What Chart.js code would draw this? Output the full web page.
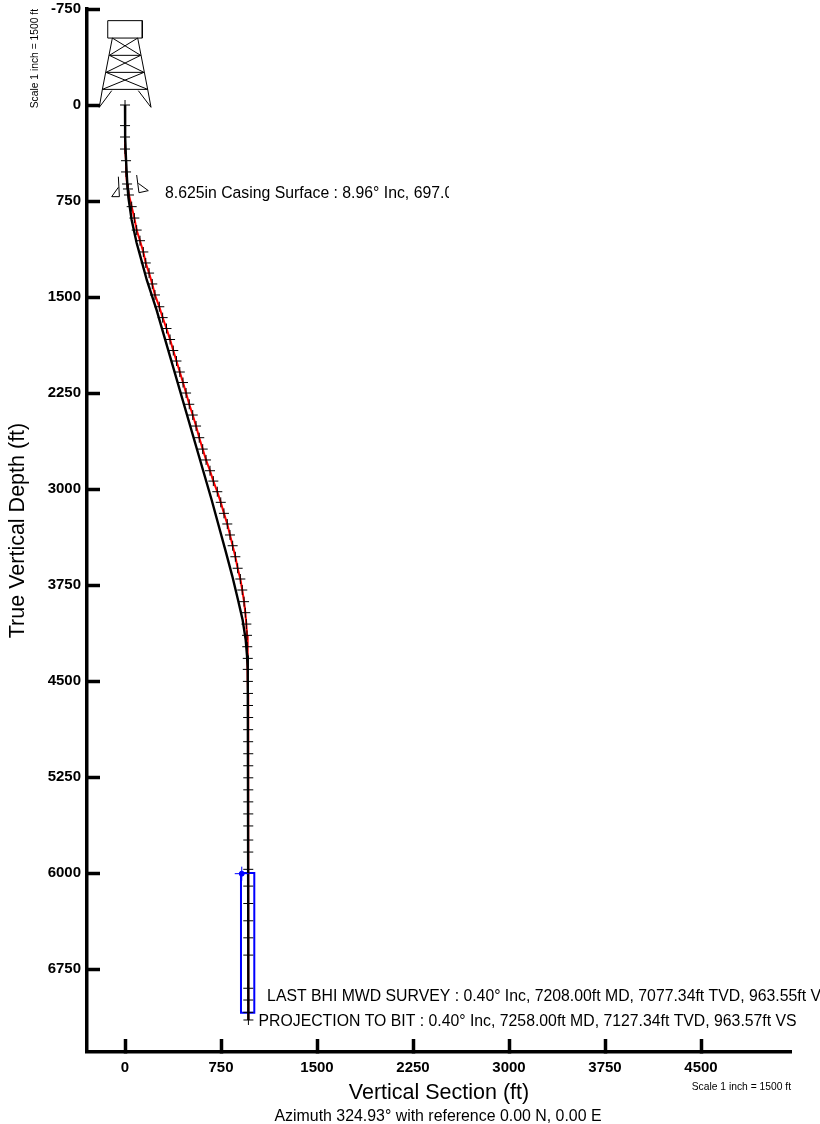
<!DOCTYPE html>
<html><head><meta charset="utf-8">
<style>html,body{margin:0;padding:0;background:#fff}canvas{display:block}</style>
<script src="https://cdn.jsdelivr.net/npm/chart.js@4"></script>
</head><body>
<canvas id="c" width="820" height="1124"></canvas>
<script>
// Axis ticks (ft)
const xTicks = [0,750,1500,2250,3000,3750,4500];
const yTicks = [-750,0,750,1500,2250,3000,3750,4500,5250,6000,6750];
// Survey stations
const surveyTVD = [0,161,250,344,435,523,617,656,703,794,883,977,1060,1148,1234,1313,1398,1484,1576,1661,1746,1832,1918,2000,2086,2168,2250,2338,2422,2508,2599,2688,2773,2857,2938,3021,3104,3190,3273,3359,3443,3529,3619,3703,3789,3880,3966,4055,4143,4232,4323,4409,4503,4597,4691,4785,4880,4974,5068,5162,5256,5350,5444,5538,5632,5742,5836,5971,6102,6238,6373,6506,6641,6900,6992,7088,7148];
const surveyVS  = [0,0,0,0,8,8,16,23,31,52,73,91,117,143,162,188,213,234,268,294,324,352,377,402,428,453,477,502,529,555,580,607,633,664,690,721,748,773,799,820,841,862,880,901,916,930,940,948,953,955,959,959,960,961,961,962,962,962,963,963,963,963,963,963,963,963,963,963,963,963,963,963,963,963,963,963,964];
// Well plan
const planTVD = [0,250,430,600,719,898,1078,1220,1367,1602,3086,3477,3680,3867,4023,4180,4300,4414,7148];
const planVS  = [0,1,8,17,26,52,91,130,170,247,677,784,838,883,919,943,953,959,964];
// Target box
const boxVS  = [906,1010,1010,906,906];
const boxTVD = [6000,6000,7091,7091,6000];
const targetVS = [912];
const targetTVD = [6005];
// Rig symbol (ft), null breaks the stroke
const rigVS  = [-135,135,135,-135,-135,null,-99,-177,null,99,177,null,-122,122,null,-148,148,null,-177,177,null,-99,122,null,99,-122,null,-122,148,null,122,-148,null,-148,177,null,148,-177,null,-177,-201,-104,null,177,203,104];
const rigTVD = [-659,-659,-523,-523,-659,null,-523,-122,null,-523,-122,null,-388,-388,null,-255,-255,null,-122,-122,null,-523,-388,null,-523,-388,null,-388,-255,null,-388,-255,null,-255,-122,null,-255,-122,null,-122,18,-112,null,-122,18,-112];
// Casing symbol
const casingVS  = [-52,-44,-104,-52,null,91,109,182,104];
const casingTVD = [560,716,716,643,null,547,685,669,612];
// Annotation text and anchors
const labelTexts = ["8.625in Casing Surface : 8.96° Inc, 697.00ft MD, 690.00ft TVD, 33.00ft VS","LAST BHI MWD SURVEY : 0.40° Inc, 7208.00ft MD, 7077.34ft TVD, 963.55ft VS","PROJECTION TO BIT : 0.40° Inc, 7258.00ft MD, 7127.34ft TVD, 963.57ft VS"];
const labelVS  = [312,1110,1043];
const labelTVD = [692,6965,7160];
const toPts=(xs,ys)=>xs.map((x,i)=>({x:x===null?NaN:x,y:ys[i]===null?NaN:ys[i]}));

const FONT='"Liberation Sans", Arial, sans-serif';
const annotations={id:'annotations',afterDraw(ch){
  const {ctx,scales:{x,y}}=ch;
  ctx.save();ctx.fillStyle='#000';ctx.textBaseline='middle';ctx.textAlign='left';
  labelTexts.forEach((t,i)=>{
    ctx.save();
    ctx.font='15.8px '+FONT;
    if(i===0){ctx.beginPath();ctx.rect(0,0,449,1124);ctx.clip();}
    ctx.fillText(t,x.getPixelForValue(labelVS[i]),y.getPixelForValue(labelTVD[i]));
    ctx.restore();
  });
  ctx.textAlign='center';ctx.font='15.9px '+FONT;
  ctx.fillText('Azimuth 324.93° with reference 0.00 N, 0.00 E',438,1117);
  ctx.font='10.3px '+FONT;ctx.textAlign='right';
  ctx.fillText('Scale 1 inch = 1500 ft',791,1087);
  ctx.save();ctx.translate(35,9);ctx.rotate(-Math.PI/2);ctx.textAlign='right';
  ctx.fillText('Scale 1 inch = 1500 ft',0,0);ctx.restore();
  ctx.restore();
}};
const axisCommon=(arr)=>({
  type:'linear',
  afterBuildTicks(s){s.ticks=arr.map(v=>({value:v}));},
  grid:{display:true,drawOnChartArea:false,drawTicks:true,tickLength:-13,tickWidth:3.5,tickColor:'#000'},
  border:{display:true,color:'#000',width:3.5}
});
new Chart(document.getElementById('c'),{
  type:'scatter',
  plugins:[annotations],
  data:{datasets:[
    {label:'Rig',data:toPts(rigVS,rigTVD),showLine:true,spanGaps:false,borderColor:'#000',borderWidth:1,pointRadius:0},
    {label:'Casing',data:toPts(casingVS,casingTVD),showLine:true,spanGaps:false,borderColor:'#000',borderWidth:1,pointRadius:0},
    {label:'Target box',data:toPts(boxVS,boxTVD),showLine:true,borderColor:'#0000ff',borderWidth:2,pointRadius:0},
    {label:'Survey',data:toPts(surveyVS,surveyTVD),showLine:true,borderColor:'#ff0000',borderWidth:2,pointStyle:'cross',pointRadius:5,pointBorderColor:'#000',pointBorderWidth:1,order:-1},
    {label:'Plan',data:toPts(planVS,planTVD),showLine:true,borderColor:'#000',borderWidth:2.4,pointRadius:0,order:-2},
    {label:'Target',data:toPts(targetVS,targetTVD),pointStyle:'cross',pointRadius:7,pointBorderColor:'#0000ff',pointBorderWidth:1,order:-3},
    {label:'Target centre',data:toPts(targetVS,targetTVD),pointStyle:'circle',pointRadius:2.5,pointBackgroundColor:'#0000ff',pointBorderColor:'#0000ff',order:-3}
  ]},
  options:{
    responsive:false,animation:false,
    layout:{padding:{top:9,right:29,left:0,bottom:0}},
    plugins:{legend:{display:false},tooltip:{enabled:false},title:{display:false}},
    scales:{
      x:{...axisCommon(xTicks),position:'bottom',min:-297,max:5203,
        afterFit(s){s.height=72;s.paddingLeft=0;s.paddingRight=0;},
        ticks:{autoSkip:false,maxRotation:0,padding:20,color:'#000',callback:v=>String(v),font:{family:FONT,size:15,weight:'bold'}},
        title:{display:true,text:'Vertical Section (ft)',color:'#000',font:{family:FONT,size:21.5},padding:{top:0,bottom:18}}},
      y:{...axisCommon(yTicks),position:'left',reverse:true,min:-750,max:7398,
        afterFit(s){s.width=87;s.paddingTop=0;s.paddingBottom=0;},
        ticks:{autoSkip:false,padding:19,color:'#000',callback:v=>String(v),font:{family:FONT,size:15,weight:'bold'}},
        title:{display:true,text:'True Vertical Depth (ft)',color:'#000',font:{family:FONT,size:21.5},padding:{top:5,bottom:0}}}
    }
  }
});
</script>
</body></html>
